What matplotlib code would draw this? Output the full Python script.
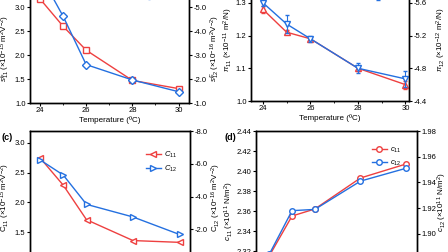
import matplotlib
matplotlib.use("Agg")
import matplotlib.pyplot as plt
from matplotlib.ticker import MultipleLocator, FormatStrFormatter

plt.rcParams['font.family'] = ['Liberation Sans', 'DejaVu Sans']
plt.rcParams['mathtext.fontset'] = 'custom'
plt.rcParams['mathtext.rm'] = 'Liberation Sans'
plt.rcParams['mathtext.it'] = 'Liberation Sans:italic'
plt.rcParams['mathtext.bf'] = 'Liberation Sans:bold'
plt.rcParams['axes.unicode_minus'] = False

# ---------------- data ----------------
temps = [24, 25, 26, 28, 30]

s11 = [3.17, 2.60, 2.10, 1.47, 1.30]
s11_err = [0.03, 0.03, 0.03, 0.03, 0.03]
s12 = [-6.36, -4.62, -2.60, -1.96, -1.47]
s12_err = [0.06, 0.06, 0.06, 0.06, 0.06]

pi11 = [1.28, 1.21, 1.19, 1.10, 1.05]
pi11_err = [0.010, 0.006, 0.006, 0.008, 0.012]
pi12 = [-5.60, -5.34, -5.16, -4.80, -4.67]
pi12_err = [0.04, 0.11, 0.04, 0.06, 0.10]

C11 = [2.75, 2.29, 1.71, 1.36, 1.33]
C12 = [-6.24, -5.31, -3.52, -2.75, -1.68]

c11 = [2.315, 2.355, 2.362, 2.393, 2.407]
c12 = [1.884, 1.918, 1.919, 1.941, 1.951]

x_ticks = [24, 26, 28, 30]

RED = '#EE4040'
BLUE = '#2470E0'
W, H = 448, 252
TFS = 5.5   # tick label size
LFS = 5.8   # axis label size

fig = plt.figure(figsize=(4.48, 2.52), dpi=100)


def add_axes(l, r, top, bottom):
    return fig.add_axes([l / W, 1 - bottom / H, (r - l) / W, (bottom - top) / H])


def style(ax, twin, show_x=True):
    for a in (ax, twin):
        for sp in a.spines.values():
            sp.set_linewidth(1.0)
        a.tick_params(direction='out', length=2.2, width=0.8, labelsize=TFS, pad=1.0)
        a.tick_params(which='minor', direction='out', length=1.4, width=0.6)
    ax.set_xticks(x_ticks)
    ax.xaxis.set_minor_locator(MultipleLocator(1))
    if not show_x:
        ax.tick_params(axis='x', labelbottom=False)


def place_labels(ax, tw, l, r, top, bottom, xl, xr, yl, yr):
    # xl: right edge of the left label, xr: left edge of the right label (pixels)
    ax.yaxis.set_label_coords((xl - l) / (r - l), (bottom - yl) / (bottom - top))
    tw.yaxis.set_label_coords((xr - l) / (r - l), (bottom - yr) / (bottom - top))


lw = 1.0
ms = 4.5

# ---------------- (a) ----------------
pa = (30, 189, -17, 103)
ax = add_axes(*pa)
tw = ax.twinx()
ax.set_xlim(23.57, 30.45)
ax.set_ylim(1.0, 3.5)
tw.set_ylim(-1.0, -6.0)
ax.errorbar(temps, s11, yerr=s11_err, color=RED, marker='s', mfc='white', mec=RED,
            ms=ms, lw=lw, capsize=1, elinewidth=0.7, label='$s^E_{11}$', zorder=3)
tw.errorbar(temps, s12, yerr=s12_err, color=BLUE, marker='D', mfc='white', mec=BLUE,
            ms=ms - 0.5, lw=lw, capsize=1, elinewidth=0.7, label='$s^E_{12}$')
ax.set_yticks([1.0, 1.5, 2.0, 2.5, 3.0])
ax.yaxis.set_major_formatter(FormatStrFormatter('%.1f'))
tw.set_yticks([-1.0, -2.0, -3.0, -4.0, -5.0])
tw.yaxis.set_major_formatter(FormatStrFormatter('%.1f'))
style(ax, tw)
ax.set_xlabel('Temperature (ºC)', fontsize=LFS, labelpad=1)
ax.set_ylabel('$s^E_{11}$ (×10$^{-15}$ m$^2$V$^{-2}$)', fontsize=LFS)
tw.set_ylabel('$s^E_{12}$ (×10$^{-16}$ m$^2$V$^{-2}$)', fontsize=LFS)
place_labels(ax, tw, *pa, 12, 209, 48, 48)
h1, l1 = ax.get_legend_handles_labels()
h2, l2 = tw.get_legend_handles_labels()
fig.legend(h1 + h2, l1 + l2, loc='lower left', bbox_to_anchor=(138 / W, 1 - 6 / H),
           frameon=False, fontsize=5.5, handlelength=2.0, borderpad=0, labelspacing=0.3,
           handletextpad=0.4)

# ---------------- (b) ----------------
pb = (251, 409, -30, 101)
ax = add_axes(*pb)
tw = ax.twinx()
ax.set_xlim(23.5, 30.15)
ax.set_ylim(1.0, 1.4)
tw.set_ylim(-4.4, -6.0)
ax.errorbar(temps, pi11, yerr=pi11_err, color=RED, marker='^', mfc='white', mec=RED,
            ms=ms, lw=lw, capsize=1.5, elinewidth=0.8, label='$\\pi_{11}$', zorder=3)
tw.errorbar(temps, pi12, yerr=pi12_err, color=BLUE, marker='v', mfc='white', mec=BLUE,
            ms=ms, lw=lw, capsize=1.5, elinewidth=0.8, label='$\\pi_{12}$')
ax.set_yticks([1.0, 1.1, 1.2, 1.3])
ax.yaxis.set_major_formatter(FormatStrFormatter('%.1f'))
tw.set_yticks([-4.4, -4.8, -5.2, -5.6])
tw.yaxis.set_major_formatter(FormatStrFormatter('%.1f'))
style(ax, tw)
ax.set_xlabel('Temperature (ºC)', fontsize=LFS, labelpad=1)
ax.set_ylabel('$\\pi_{11}$ (×10$^{-11}$ m$^2$/N)', fontsize=LFS)
tw.set_ylabel('$\\pi_{12}$ (×10$^{-12}$ m$^2$/N)', fontsize=LFS)
place_labels(ax, tw, *pb, 235, 435, 40, 40)
h1, l1 = ax.get_legend_handles_labels()
h2, l2 = tw.get_legend_handles_labels()
fig.legend(h1 + h2, l1 + l2, loc='lower left', bbox_to_anchor=(367 / W, 1 - 6 / H),
           frameon=False, fontsize=5.5, handlelength=2.0, borderpad=0, labelspacing=0.3,
           handletextpad=0.4)

# ---------------- (c) ----------------
pc = (30, 190, 131, 262)
ax = add_axes(*pc)
tw = ax.twinx()
ax.set_xlim(23.57, 30.45)
ax.set_ylim(1.0, 3.2)
tw.set_ylim(0.0, -8.0)
ax.plot(temps, C11, color=RED, marker='<', mfc='white', mec=RED, ms=ms + 0.5, lw=lw,
        label='$C_{11}$', zorder=3)
tw.plot(temps, C12, color=BLUE, marker='>', mfc='white', mec=BLUE, ms=ms + 0.5, lw=lw,
        label='$C_{12}$')
ax.set_yticks([1.5, 2.0, 2.5, 3.0])
ax.yaxis.set_major_formatter(FormatStrFormatter('%.1f'))
tw.set_yticks([-2.0, -4.0, -6.0, -8.0])
tw.yaxis.set_major_formatter(FormatStrFormatter('%.1f'))
style(ax, tw, show_x=False)
ax.set_ylabel('C$_{11}$ (×10$^{-15}$ m$^2$V$^{-2}$)', fontsize=LFS)
tw.set_ylabel('C$_{12}$ (×10$^{-16}$ m$^2$V$^{-2}$)', fontsize=LFS)
place_labels(ax, tw, *pc, 12, 210, 198, 198)
h1, l1 = ax.get_legend_handles_labels()
h2, l2 = tw.get_legend_handles_labels()
fig.legend(h1 + h2, l1 + l2, loc='upper left', bbox_to_anchor=(142 / W, 1 - 146 / H),
           frameon=False, fontsize=5.5, handlelength=2.0, borderpad=0, labelspacing=0.5,
           handletextpad=0.4)
fig.text(1 / W, 1 - 138 / H, '(c)', fontsize=6.5, fontweight='bold', va='center', ha='left')

# ---------------- (d) ----------------
pd_ = (256, 417, 131, 291)
ax = add_axes(*pd_)
tw = ax.twinx()
ax.set_xlim(23.42, 30.48)
ax.set_ylim(2.28, 2.44)
tw.set_ylim(1.8555, 1.98)
ax.plot(temps, c11, color=RED, marker='o', mfc='white', mec=RED, ms=ms - 0.5, lw=lw,
        label='$c_{11}$', zorder=3)
tw.plot(temps, c12, color=BLUE, marker='o', mfc='white', mec=BLUE, ms=ms - 0.5, lw=lw,
        label='$c_{12}$')
ax.set_yticks([2.32, 2.34, 2.36, 2.38, 2.40, 2.42, 2.44])
ax.yaxis.set_major_formatter(FormatStrFormatter('%.2f'))
tw.set_yticks([1.90, 1.92, 1.94, 1.96, 1.98])
tw.yaxis.set_major_formatter(FormatStrFormatter('%.2f'))
style(ax, tw, show_x=False)
ax.set_ylabel('$c_{11}$ (×10$^{11}$ N/m$^2$)', fontsize=LFS)
tw.set_ylabel('$c_{12}$ (×10$^{11}$ N/m$^2$)', fontsize=LFS)
place_labels(ax, tw, *pd_, 236, 436, 211, 202)
h1, l1 = ax.get_legend_handles_labels()
h2, l2 = tw.get_legend_handles_labels()
fig.legend(h1 + h2, l1 + l2, loc='upper left', bbox_to_anchor=(368 / W, 1 - 142 / H),
           frameon=False, fontsize=5.5, handlelength=2.0, borderpad=0, labelspacing=0.5,
           handletextpad=0.4)
fig.text(224 / W, 1 - 138 / H, '(d)', fontsize=6.5, fontweight='bold', va='center', ha='left')

fig.savefig('out.png', dpi=100)
